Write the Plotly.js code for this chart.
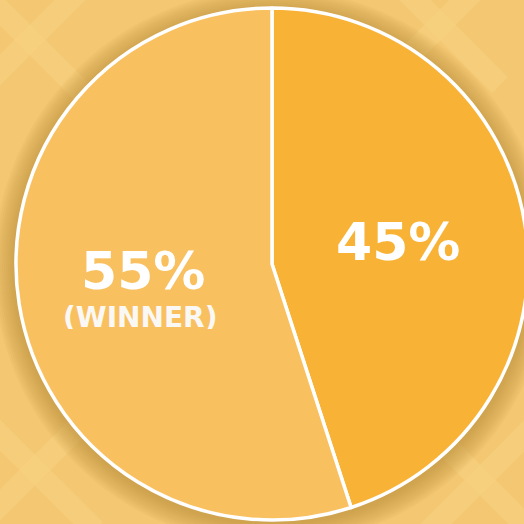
<!DOCTYPE html>
<html>
<head>
<meta charset="utf-8">
<script src="https://cdn.plot.ly/plotly-3.0.1.min.js"></script>
<style>
html,body{margin:0;padding:0;overflow:hidden;background:#F4C873;}
#chart{width:540px;height:524px;}
</style>
</head>
<body>
<div id="chart"></div>
<script>
const labels = ["Other", "Winner"];
const values = [45, 55];
const sliceText = ["45%", "55%"];
const subText = ["", "(WINNER)"];
const colors = ["#F8B336", "#F9C060"];

const W = 540, H = 524;
const cx = 272, cy = 264, R = 256;
const px = x => x / W;
const py = y => (H - y) / H;

const shapes = [];
// faint background X pattern
const xs = [[30, 40], [440, 25], [35, 470], [480, 480]];
xs.forEach(([x, y]) => {
  const d = 60;
  shapes.push({type: "line", xref: "paper", yref: "paper", x0: px(x - d), y0: py(y - d), x1: px(x + d), y1: py(y + d),
    line: {color: "rgba(250,214,135,0.35)", width: 22}, layer: "below"});
  shapes.push({type: "line", xref: "paper", yref: "paper", x0: px(x - d), y0: py(y + d), x1: px(x + d), y1: py(y - d),
    line: {color: "rgba(250,214,135,0.35)", width: 22}, layer: "below"});
});
// soft shadow around the pie
for (let i = 22; i >= 2; i -= 2) {
  shapes.push({type: "circle", xref: "paper", yref: "paper", xsizemode: "pixel", ysizemode: "pixel",
    xanchor: px(cx), yanchor: py(cy + 3), x0: -(R + i), x1: R + i, y0: -(R + i), y1: R + i,
    fillcolor: "rgba(190,140,60,0.07)", line: {width: 0}, layer: "below"});
}

const data = [{
  type: "pie",
  labels: labels,
  values: values,
  sort: false,
  direction: "clockwise",
  rotation: 0,
  textinfo: "none",
  hoverinfo: "none",
  marker: {colors: colors, line: {color: "#FFFFFF", width: 3.5}},
  domain: {x: [px(cx - R), px(cx + R)], y: [py(cy + R), py(cy - R)]},
  showlegend: false
}];

const font = {family: "DejaVu Sans, sans-serif", color: "#FFFFFF", weight: "bold"};
const annotations = [
  {x: px(398), y: py(242), text: sliceText[0], height: 44, font: Object.assign({}, font, {size: 52})},
  {x: px(143), y: py(271), text: sliceText[1], height: 44, font: Object.assign({}, font, {size: 52})},
  {x: px(140), y: py(317), text: subText[1], height: 24, font: Object.assign({}, font, {size: 28, color: "#FAF8F5"})}
].map(a => Object.assign({xref: "paper", yref: "paper", showarrow: false, xanchor: "center", yanchor: "middle"}, a));

const layout = {
  width: W, height: H,
  margin: {l: 0, r: 0, t: 0, b: 0},
  paper_bgcolor: "#F4C873",
  plot_bgcolor: "#F4C873",
  shapes: shapes,
  annotations: annotations
};

Plotly.newPlot("chart", data, layout, {displayModeBar: false, staticPlot: true});
</script>
</body>
</html>
